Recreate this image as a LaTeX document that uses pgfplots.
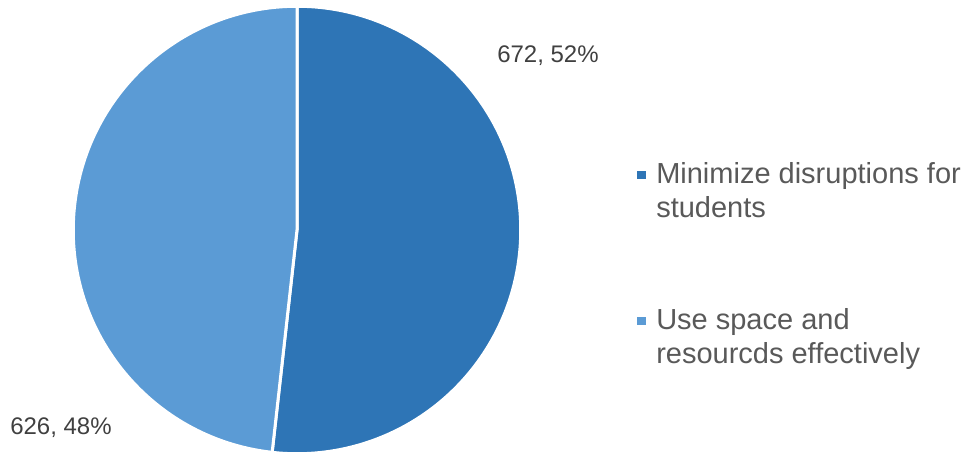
\documentclass[border=0pt]{standalone}
\usepackage{pgfplots}
\usepackage{pgfplotstable}
\pgfplotsset{compat=1.18}
\usepackage{fontspec}
\setmainfont{Liberation Sans}
\definecolor{cA}{HTML}{2E75B6}
\definecolor{cB}{HTML}{5B9BD5}
\definecolor{legtxt}{HTML}{595959}
\definecolor{labtxt}{HTML}{404040}
\pgfplotstableread{
label value
Minimize 672
Use 626
}\piedata
\begin{document}
\begin{tikzpicture}
\begin{axis}[
  x=0.75pt, y=0.75pt,
  xmin=0, xmax=968, ymin=0, ymax=454,
  hide axis, clip=false,
]
\pgfplotstablegetelem{0}{value}\of\piedata \let\va\pgfplotsretval
\pgfplotstablegetelem{1}{value}\of\piedata \let\vb\pgfplotsretval
\pgfmathsetmacro{\tot}{\va+\vb}
\pgfmathsetmacro{\fa}{\va/\tot}
\pgfmathsetmacro{\fb}{\vb/\tot}
\pgfmathsetmacro{\angA}{90-360*\fa}
\pgfmathtruncatemacro{\pai}{round(100*\fa)}
\pgfmathtruncatemacro{\pbi}{round(100*\fb)}
\path (axis cs:0,0) rectangle (axis cs:968,454);
% slices
\fill[cA, draw=white, line width=2.25pt, line join=round]
  (axis cs:297,224) -- ++(90:167.8pt) arc[start angle=90, end angle=\angA, radius=167.8pt] -- cycle;
\fill[cB, draw=white, line width=2.25pt, line join=round]
  (axis cs:297,224) -- ++(\angA:167.8pt) arc[start angle=\angA, end angle=-270, radius=167.8pt] -- cycle;
% data labels
\node[anchor=base west, inner sep=0, text=labtxt, font=\fontsize{18}{21}\selectfont] at (axis cs:497,391) {\va, \pai\%};
\node[anchor=base west, inner sep=0, text=labtxt, font=\fontsize{18}{21}\selectfont] at (axis cs:10,20) {\vb, \pbi\%};
% legend
\fill[cA] (axis cs:637,275) rectangle (axis cs:646,283);
\fill[cB] (axis cs:637,129) rectangle (axis cs:646,137);
\node[anchor=base west, inner sep=0, text=legtxt, font=\fontsize{21.75}{26}\selectfont] at (axis cs:656,270) {Minimize disruptions for};
\node[anchor=base west, inner sep=0, text=legtxt, font=\fontsize{21.75}{26}\selectfont] at (axis cs:656,236) {students};
\node[anchor=base west, inner sep=0, text=legtxt, font=\fontsize{21.75}{26}\selectfont] at (axis cs:656,125) {Use space and};
\node[anchor=base west, inner sep=0, text=legtxt, font=\fontsize{21.75}{26}\selectfont] at (axis cs:656,91) {resourcds effectively};
\end{axis}
\end{tikzpicture}
\end{document}
